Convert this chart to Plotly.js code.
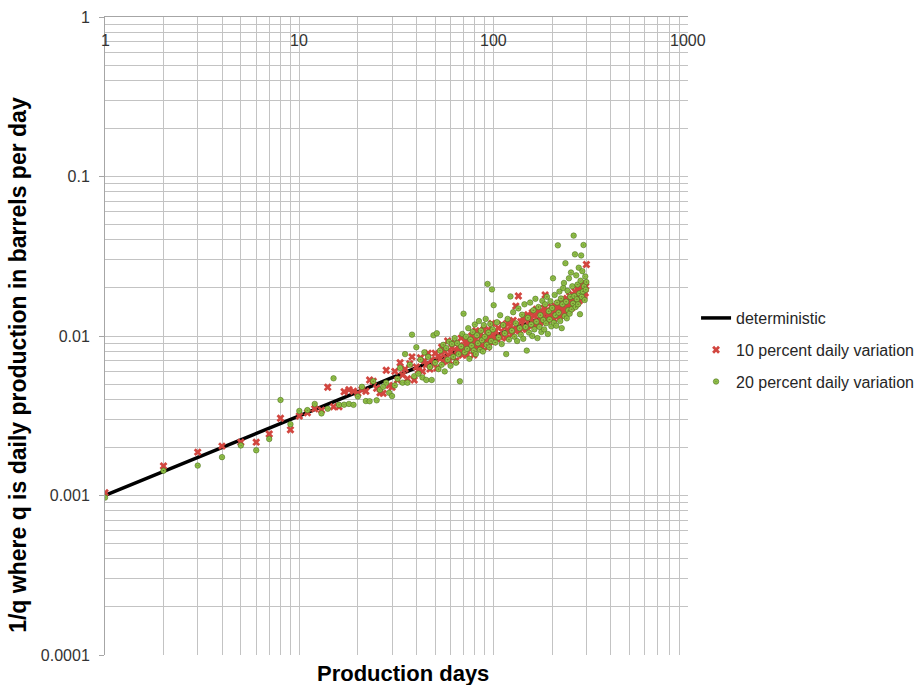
<!DOCTYPE html>
<html>
<head>
<meta charset="utf-8">
<script src="https://cdn.plot.ly/plotly-3.0.1.min.js"></script>
<style>html,body{margin:0;padding:0;background:#fff;}#chart{width:919px;height:685px;}</style>
</head>
<body>
<div id="chart"></div>
<script>
// ---- data ----
var detDays = [1, 2, 3, 5, 7, 10, 15, 20, 30, 50, 70, 100, 130, 160, 200, 230, 260, 280, 300];
var detInvQ = [0.001, 0.00141, 0.00173, 0.00224, 0.00265, 0.00316, 0.00387, 0.00447, 0.00548, 0.00707, 0.00837, 0.0100, 0.0113, 0.0124, 0.0136, 0.0148, 0.0165, 0.0180, 0.0200];

var days = [1,2,3,4,5,6,7,8,9,10,11,12,13,14,15,16,17,18,19,20,21,22,23,24,25,26,27,28,29,30,
31,32,33,34,35,36,37,38,39,40,41,42,43,44,45,46,47,48,49,50,51,52,53,54,55,56,57,58,59,60,
61,62,63,64,65,66,67,68,69,70,71,72,73,74,75,76,77,78,79,80,81,82,83,84,85,86,87,88,89,90,
91,92,93,94,95,96,97,98,99,100,
102,104,106,108,110,112,114,116,118,120,122,124,126,128,130,132,134,136,138,140,
142,144,146,148,150,152,154,156,158,160,162,164,166,168,170,172,174,176,178,180,
182,184,186,188,190,192,194,196,198,200,202,204,206,208,210,212,214,216,218,220,
222,224,226,228,230,232,234,236,238,240,242,244,246,248,250,252,254,256,258,260,
262,264,266,268,270,272,274,276,278,280,282,284,286,288,290,292,294,296,298,300];

var var10 = [0.00104,0.00153,0.00187,0.00204,0.00216,0.00216,0.00243,0.00305,0.00258,0.00315,
0.0033,0.0035,0.00343,0.00477,0.0036,0.0036,0.00447,0.0046,0.0045,0.00438,
0.0046,0.0045,0.0053,0.0052,0.0047,0.0044,0.00437,0.0061,0.0049,0.00477,
0.0060,0.0053,0.0068,0.0057,0.0062,0.0054,0.0067,0.0074,0.0053,0.0064,
0.0061,0.0073,0.0060,0.0070,0.0066,0.0078,0.0062,0.0071,0.0067,0.0078,
0.0063,0.0075,0.0072,0.0085,0.0069,0.0080,0.0073,0.0093,0.0070,0.0079,
0.0085,0.0074,0.0090,0.0070,0.0081,0.0086,0.0079,0.0097,0.0076,0.0087,
0.0083,0.0094,0.0076,0.0089,0.0093,0.0083,0.0100,0.0087,0.0076,0.0094,
0.0108,0.0084,0.0092,0.0100,0.0089,0.0104,0.0085,0.0098,0.0110,0.0090,
0.0097,0.0104,0.0085,0.0110,0.0097,0.0104,0.0093,0.0120,0.0100,0.0092,
0.0108,0.0096,0.0112,0.0099,0.0118,0.0101,0.0113,0.0097,0.0121,0.0106,
0.0115,0.0102,0.0125,0.0109,0.0154,0.0111,0.0178,0.0108,0.0123,0.0112,
0.0131,0.0114,0.0127,0.0110,0.0136,0.0118,0.0129,0.0115,0.0140,0.0121,
0.0134,0.0117,0.0147,0.0124,0.0138,0.0120,0.0143,0.0126,0.0135,0.0122,
0.0150,0.0181,0.0139,0.0125,0.0146,0.0129,0.0141,0.0127,0.0152,0.0131,
0.0145,0.0128,0.0155,0.0133,0.0149,0.0135,0.0160,0.0138,0.0152,0.0134,
0.0163,0.0140,0.0156,0.0137,0.0168,0.0143,0.0159,0.0146,0.0172,0.0149,
0.0165,0.0145,0.0178,0.0153,0.0170,0.0150,0.0183,0.0158,0.0176,0.0155,
0.0190,0.0163,0.0181,0.0160,0.0196,0.0168,0.0188,0.0166,0.0203,0.0175,
0.0194,0.0172,0.0210,0.0180,0.0201,0.0178,0.0214,0.0186,0.0205,0.0281];

var var20 = [0.00097,0.00143,0.00154,0.00174,0.00206,0.00192,0.00226,0.00397,0.0028,0.00339,
0.00343,0.00375,0.00327,0.0035,0.00543,0.0037,0.00371,0.00375,0.0037,0.00417,
0.0048,0.00391,0.0039,0.0052,0.00395,0.0046,0.0048,0.0051,0.0044,0.0042,
0.0049,0.0054,0.0063,0.0051,0.0077,0.0051,0.0066,0.0102,0.0056,0.0085,
0.0058,0.0071,0.0055,0.0079,0.0053,0.0074,0.0064,0.0053,0.0101,0.0068,
0.0104,0.0062,0.0081,0.0066,0.0088,0.0060,0.0084,0.0071,0.0092,0.0065,
0.0089,0.0074,0.0097,0.0068,0.0090,0.0077,0.0052,0.0086,0.0103,0.0138,
0.0079,0.0099,0.0083,0.0112,0.0072,0.0095,0.0087,0.0106,0.0081,0.0118,
0.0077,0.0101,0.0090,0.0124,0.0082,0.0108,0.0094,0.0080,0.0117,0.0099,
0.0128,0.0088,0.0212,0.0105,0.0085,0.0119,0.0093,0.0196,0.0110,0.0156,
0.0091,0.0122,0.0098,0.0135,0.0089,0.0117,0.0104,0.0077,0.0128,0.0095,
0.0177,0.0108,0.0141,0.0099,0.0120,0.0093,0.0149,0.0112,0.0102,0.0136,
0.0096,0.0158,0.0114,0.0081,0.0130,0.0105,0.0162,0.0118,0.0100,0.0145,
0.0110,0.0171,0.0123,0.0097,0.0152,0.0114,0.0135,0.0106,0.0166,0.0126,
0.0110,0.0158,0.0120,0.0176,0.0103,0.0143,0.0127,0.0165,0.0115,0.0150,
0.0230,0.0121,0.0181,0.0135,0.0116,0.0162,0.0370,0.0140,0.0190,0.0124,
0.0172,0.0112,0.0158,0.0200,0.0215,0.0133,0.0286,0.0164,0.0129,0.0192,
0.0145,0.0230,0.0138,0.0176,0.0250,0.0147,0.0205,0.0160,0.0426,0.0178,
0.0325,0.0152,0.0240,0.0170,0.0210,0.0158,0.0268,0.0185,0.0137,0.0222,
0.0320,0.0176,0.0255,0.0190,0.0372,0.0205,0.0168,0.0236,0.0195,0.0218];

var seriesNames = ['deterministic', '10 percent daily variation', '20 percent daily variation'];
var xTickVals = [1, 10, 100, 1000];
var xTickText = ['1', '10', '100', '1000'];
var yTickVals = [1, 0.1, 0.01, 0.001, 0.0001];
var yTickText = ['1', '0.1', '0.01', '0.001', '0.0001'];
var xTitle = 'Production days';
var yTitle = '1/q where q is daily production in barrels per day';

// minor gridline positions (2..9 within each decade)
function minorVals(e0, e1) {
  var out = [];
  for (var e = e0; e < e1; e++) {
    for (var k = 2; k <= 9; k++) out.push(k * Math.pow(10, e));
  }
  return out;
}

var grid = '#c3c3c3';
var fontFam = 'Liberation Sans, Arial, sans-serif';
var traces = [
  {x: detDays, y: detInvQ, name: seriesNames[0], type: 'scatter', mode: 'lines',
   line: {color: '#000000', width: 3.5}, legendgroup: 'a'},
  {x: days, y: var10, name: seriesNames[1], type: 'scatter', mode: 'markers',
   marker: {symbol: 'x', size: 7, color: '#d2463f', line: {width: 0}}, legendgroup: 'b'},
  {x: days, y: var20, name: seriesNames[2], type: 'scatter', mode: 'markers',
   marker: {symbol: 'circle-dot', size: 5.5, color: '#8fbf45', line: {color: '#4d7020', width: 0.6}}, legendgroup: 'c'}
];

// x tick labels drawn just below the top axis line, inside the plot
var annotations = xTickVals.map(function (v, i) {
  return {text: xTickText[i], xref: 'x', yref: 'paper', x: Math.log10(v), y: 1,
          xanchor: 'center', yanchor: 'middle', yshift: -23, showarrow: false,
          font: {size: 16, color: '#333333', family: fontFam}};
});
annotations.push(
  {text: '<b>' + xTitle + '</b>', xref: 'paper', yref: 'paper', x: 0.511, y: -0.0285,
   xanchor: 'center', yanchor: 'middle', showarrow: false,
   font: {size: 22, color: '#000000', family: fontFam}},
  {text: '<b>' + yTitle + '</b>', xref: 'paper', yref: 'paper', x: -0.149, y: 0.455,
   xanchor: 'center', yanchor: 'middle', textangle: -90, showarrow: false,
   font: {size: 23, color: '#000000', family: fontFam}}
);

var layout = {
  width: 919, height: 685,
  margin: {l: 105, r: 231, t: 17, b: 30},
  paper_bgcolor: '#ffffff', plot_bgcolor: '#ffffff',
  font: {family: fontFam, size: 16, color: '#333333'},
  showlegend: true,
  legend: {xref: 'container', x: 0.7574, xanchor: 'left', yref: 'paper', y: 0.478, yanchor: 'middle',
           font: {size: 16, color: '#262626'}, bgcolor: 'rgba(0,0,0,0)',
           borderwidth: 0, traceorder: 'grouped', tracegroupgap: 8},
  xaxis: {type: 'log', range: [0, 3], side: 'top',
          tickmode: 'array', tickvals: xTickVals, ticktext: xTickText,
          showticklabels: false, ticks: '',
          showline: true, linecolor: '#a6a6a6', linewidth: 1,
          showgrid: true, gridcolor: grid, gridwidth: 1, zeroline: false,
          minor: {tickmode: 'array', tickvals: minorVals(0, 3), showgrid: true, gridcolor: grid, gridwidth: 1, ticks: ''}},
  yaxis: {type: 'log', range: [-4, 0],
          tickmode: 'array', tickvals: yTickVals, ticktext: yTickText,
          ticks: 'outside', ticklen: 5, tickcolor: '#a6a6a6', ticklabelstandoff: 6,
          showline: true, linecolor: '#a6a6a6', linewidth: 1,
          showgrid: true, gridcolor: grid, gridwidth: 1, zeroline: false,
          tickfont: {size: 16, color: '#333333'},
          minor: {tickmode: 'array', tickvals: minorVals(-4, 0), showgrid: true, gridcolor: grid, gridwidth: 1, ticks: ''}},
  annotations: annotations
};

Plotly.newPlot('chart', traces, layout, {displayModeBar: false, staticPlot: true});
</script>
</body>
</html>
